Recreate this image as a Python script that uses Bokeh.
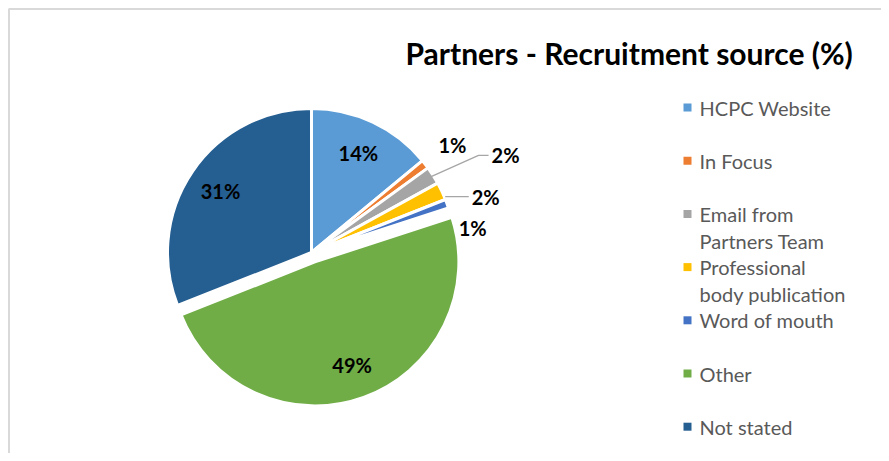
import math
from bokeh.plotting import figure
from bokeh.models import Range1d
from bokeh.core.properties import value
from bokeh.embed import file_html
from bokeh.resources import INLINE

# ---------------- data ----------------
title_text = "Partners - Recruitment source (%)"
categories = ["HCPC Website", "In Focus", "Email from Partners Team",
              "Professional body publication", "Word of mouth", "Other", "Not stated"]
legend_lines = [["HCPC Website"], ["In Focus"], ["Email from", "Partners Team"],
                ["Professional", "body publication"], ["Word of mouth"], ["Other"], ["Not stated"]]
values = [14, 1, 2, 2, 1, 49, 31]

# ---------------- style / layout ----------------
colors = ["#5B9BD5", "#ED7D31", "#A5A5A5", "#FFC000", "#4472C4", "#70AD47", "#255E91"]
explode = [0, 0, 0, 0, 0, 10, 0]
# label placement: None -> inside at r=110; else (radius, angle_deg) outside
outside = [None, (177, 37.2), (217, 26.6), (183, 17.8), (163, 8.5), None, None]
leader = [False, False, True, True, False, False, False]

W, H = 881, 453
def X(px): return px
def Y(py): return H - py

CX, CY, R = X(311), Y(252), 144
FONT = "Lato"

p = figure(width=W, height=H, output_backend="svg", toolbar_location=None,
           x_range=Range1d(0, W), y_range=Range1d(0, H), min_border=0)
p.axis.visible = False
p.grid.visible = False
p.outline_line_color = None
p.background_fill_color = "white"
p.border_fill_color = "white"

# chart border (left and top only visible)
p.line(x=[X(8.5), X(8.5), W], y=[0, Y(8.5), Y(8.5)], line_color="#D9D9D9", line_width=2)

total = float(sum(values))
cum = 0.0
lab_x, lab_y, lab_t = [], [], []
for i, v in enumerate(values):
    a0 = 90 - cum / total * 360
    a1 = a0 - v / total * 360
    cum += v
    mid = math.radians((a0 + a1) / 2)
    ox = CX + explode[i] * math.cos(mid)
    oy = CY + explode[i] * math.sin(mid)
    p.wedge(x=[ox], y=[oy], radius=R, start_angle=math.radians(a0), end_angle=math.radians(a1),
            direction="clock", fill_color=colors[i], line_color="white", line_width=3)
    txt = f"{v}%"
    if outside[i] is None:
        lx = ox + 110 * math.cos(mid)
        ly = oy + 110 * math.sin(mid)
    else:
        r, ang = outside[i]
        lx = CX + r * math.cos(math.radians(ang))
        ly = CY + r * math.sin(math.radians(ang))
        if leader[i]:
            end_x = lx - 17
            dy = ly - CY
            ang_y = math.degrees(math.asin(max(-1, min(1, dy / R))))
            if a1 <= ang_y <= a0:
                sx = CX + math.sqrt(R * R - dy * dy)
                p.line(x=[sx + 1, end_x], y=[ly, ly], line_color="#A6A6A6", line_width=1.3)
            else:
                sx = CX + (R - 3) * math.cos(mid)
                sy = CY + (R - 3) * math.sin(mid)
                p.line(x=[sx, end_x - 10, end_x], y=[sy, ly, ly], line_color="#A6A6A6", line_width=1.3)
    lab_x.append(lx); lab_y.append(ly); lab_t.append(txt)

p.text(x=lab_x, y=lab_y, text=lab_t, text_font=value(FONT), text_font_style="bold",
       text_font_size="20px", text_color="black", text_align="center", text_baseline="middle")

# title
p.text(x=[X(405)], y=[Y(52)], text=[title_text], text_font=value(FONT), text_font_style="bold",
       text_font_size="30px", text_color="black", text_align="left", text_baseline="alphabetic")

# legend
row0, step, line_gap = 107, 53.2, 27
for i, lines in enumerate(legend_lines):
    yy = row0 + i * step
    p.rect(x=[X(687)], y=[Y(yy)], width=8, height=8, fill_color=colors[i], line_color=None)
    for k, t in enumerate(lines):
        p.text(x=[X(699)], y=[Y(yy + k * line_gap)], text=[t], text_font=value(FONT),
               text_font_size="20px", text_color="#595959", text_align="left",
               text_baseline="middle")

open("out.html", "w").write(file_html(p, INLINE))
